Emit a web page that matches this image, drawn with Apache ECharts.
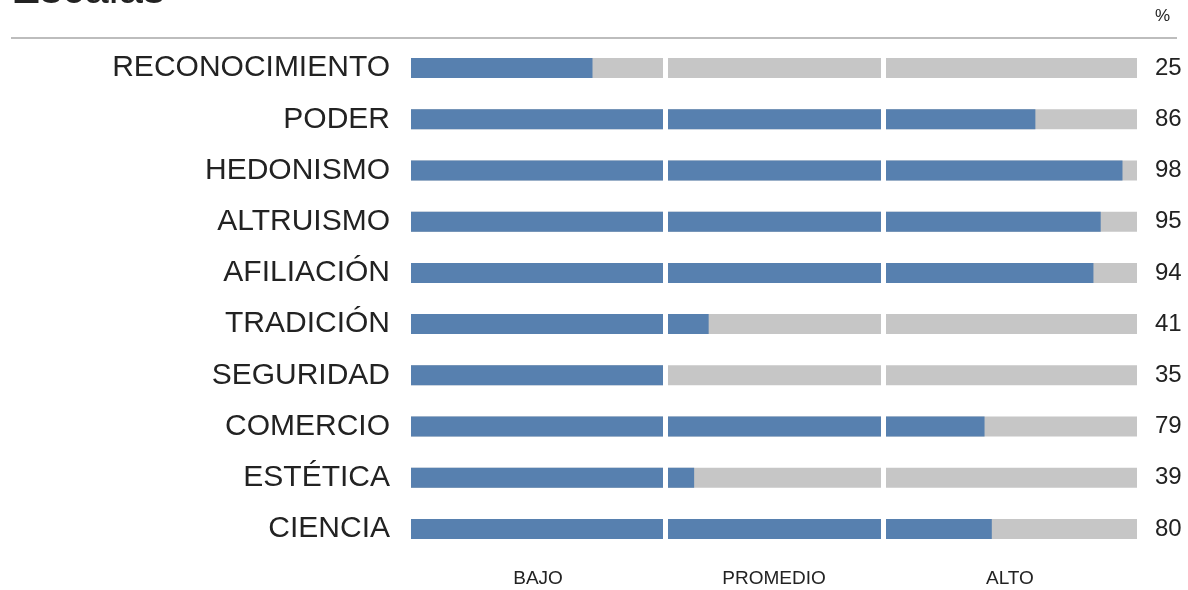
<!DOCTYPE html>
<html>
<head>
<meta charset="utf-8">
<script src="https://cdn.jsdelivr.net/npm/echarts@6/dist/echarts.min.js"></script>
<style>
  html, body { margin: 0; padding: 0; background: #ffffff; }
  #chart { width: 1188px; height: 590px; }
</style>
</head>
<body>
<div id="chart"></div>
<script>
// escalas y porcentajes
var escalas = ['RECONOCIMIENTO', 'PODER', 'HEDONISMO', 'ALTRUISMO', 'AFILIACIÓN',
               'TRADICIÓN', 'SEGURIDAD', 'COMERCIO', 'ESTÉTICA', 'CIENCIA'];
var valores = [25, 86, 98, 95, 94, 41, 35, 79, 39, 80];
// tramos: BAJO 0-35, PROMEDIO 35-65, ALTO 65-100
var cortes = [35, 65];
var tramos = ['BAJO', 'PROMEDIO', 'ALTO'];
var centrosTramos = [17.5, 50, 82.5];

var fuente = 'Liberation Sans, Arial, sans-serif';
var chart = echarts.init(document.getElementById('chart'));

chart.setOption({
    animation: false,
    backgroundColor: '#ffffff',
    grid: { left: 411, right: 51, top: 42.5, bottom: 35.5 },
    graphic: [
        {
            type: 'text', left: 11, top: -31,
            style: { text: 'Escalas', font: '44px ' + fuente, fill: '#222' }
        },
        {
            type: 'line', shape: { x1: 11, y1: 38, x2: 1177, y2: 38 },
            style: { stroke: '#bdbdbd', lineWidth: 2 }
        },
        {
            type: 'text', left: 1155, top: 8,
            style: { text: '%', font: '17px ' + fuente, fill: '#222' }
        }
    ],
    xAxis: {
        type: 'value', min: 0, max: 100,
        splitLine: { show: false },
        axisLine: { show: false },
        axisTick: { show: false },
        axisLabel: {
            customValues: centrosTramos,
            margin: 15,
            fontSize: 19, fontFamily: fuente, color: '#222',
            formatter: function (v) {
                var i = centrosTramos.indexOf(v);
                return i >= 0 ? tramos[i] : '';
            }
        }
    },
    yAxis: [
        {
            type: 'category', data: escalas, inverse: true,
            axisLine: { show: false }, axisTick: { show: false },
            axisLabel: { margin: 21, fontSize: 30, fontFamily: fuente, color: '#222', padding: [0, 0, 6, 0] }
        },
        {
            type: 'category', data: valores, inverse: true, position: 'right',
            axisLine: { show: false }, axisTick: { show: false },
            axisLabel: { margin: 18, fontSize: 24, fontFamily: fuente, color: '#222', padding: [2, 0, 0, 0] }
        }
    ],
    series: [{
        type: 'bar',
        data: valores,
        barWidth: 20,
        itemStyle: { color: '#5780AF' },
        showBackground: true,
        backgroundStyle: { color: '#C6C6C6' },
        markLine: {
            silent: true,
            symbol: ['none', 'none'],
            label: { show: false },
            lineStyle: { color: '#ffffff', width: 5, type: 'solid' },
            data: cortes.map(function (c) { return { xAxis: c }; })
        }
    }]
});
</script>
</body>
</html>
